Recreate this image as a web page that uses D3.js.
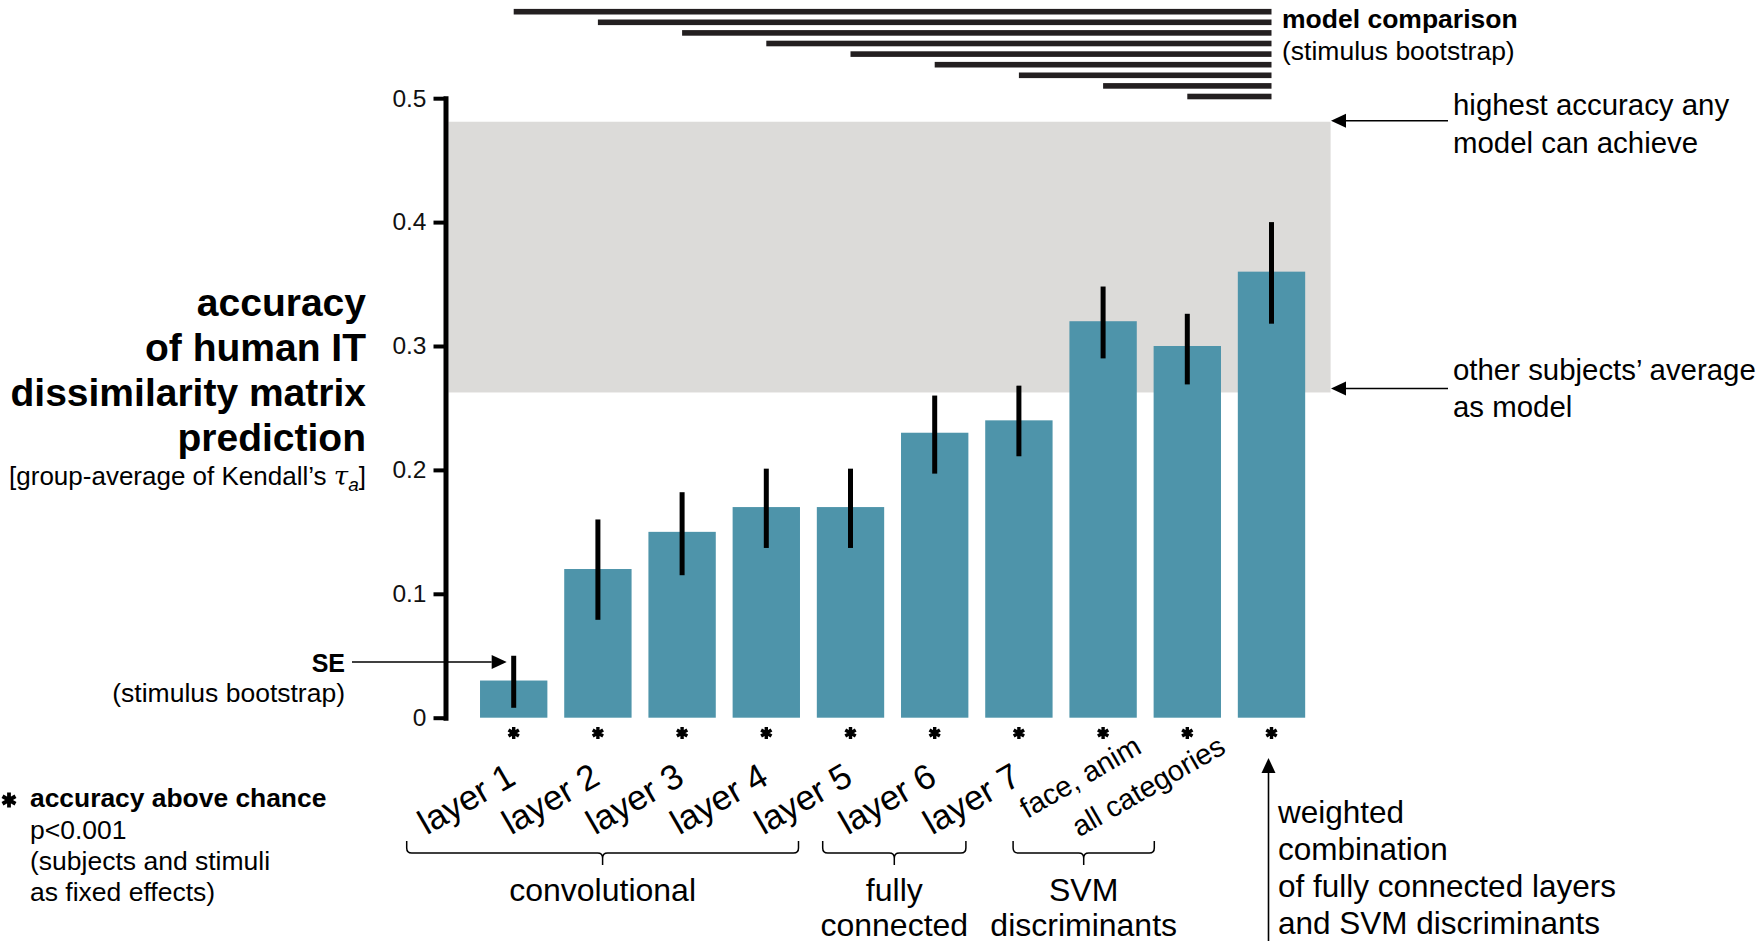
<!DOCTYPE html>
<html>
<head>
<meta charset="utf-8">
<script src="https://cdn.jsdelivr.net/npm/d3@7"></script>
<style>
  html, body { margin: 0; padding: 0; background: #fff; }
  svg { display: block; font-family: "Liberation Sans", Arial, Helvetica, sans-serif; }
</style>
</head>
<body>
<svg id="chart" width="1759" height="941"></svg>
<script>
// ---------------- data ----------------
const categories = ["layer 1", "layer 2", "layer 3", "layer 4", "layer 5", "layer 6", "layer 7",
                    "face, anim", "all categories", "weighted combination"];
const accuracy = [0.03, 0.12, 0.15, 0.17, 0.17, 0.23, 0.24, 0.32, 0.30, 0.36];
const seLow    = [0.008, 0.079, 0.115, 0.137, 0.137, 0.197, 0.211, 0.290, 0.269, 0.318];
const seHigh   = [0.050, 0.160, 0.182, 0.201, 0.201, 0.260, 0.268, 0.348, 0.326, 0.400];
const xTickLabels = ["layer 1", "layer 2", "layer 3", "layer 4", "layer 5", "layer 6", "layer 7",
                     "face, anim", "all categories", ""];
const smallLabels = ["face, anim", "all categories"];
const aboveChance = [true, true, true, true, true, true, true, true, true, true];
const yTicks = [0, 0.1, 0.2, 0.3, 0.4, 0.5];
const ceilingUpper = 0.481;
const ceilingLower = 0.2625;
const seExample = 0.045;
// model comparison bars: each spans from this category to the best model
const comparisonFrom = ["layer 1", "layer 2", "layer 3", "layer 4", "layer 5", "layer 6", "layer 7",
                        "face, anim", "all categories"];
const comparisonTo = "weighted combination";
// category groups (brackets)
const groupNames = [["convolutional"], ["fully", "connected"], ["SVM", "discriminants"]];
const groupFirst = ["layer 1", "layer 6", "face, anim"];
const groupLast  = ["layer 5", "layer 7", "all categories"];

// ---------------- layout ----------------
const svg = d3.select("#chart");
const BAR = "#4e94aa", BAND = "#dcdbd9", INK = "#000";

const x = d3.scaleBand().domain(categories).range([471.6, 1313.6]).paddingInner(0.2).paddingOuter(0.1);
const y = d3.scaleLinear().domain([0, 0.5]).range([717.7, 98.2]);
const cx = c => x(c) + x.bandwidth() / 2;
const axisX = 445.5;

function arrow(x1, y1, x2, y2) {
  const ang = Math.atan2(y2 - y1, x2 - x1);
  const L = 15, H = 7;
  const bx = x2 - L * Math.cos(ang), by = y2 - L * Math.sin(ang);
  svg.append("line").attr("x1", x1).attr("y1", y1).attr("x2", bx).attr("y2", by)
    .attr("stroke", INK).attr("stroke-width", 1.6);
  const px = -Math.sin(ang) * H, py = Math.cos(ang) * H;
  svg.append("path").attr("d", `M${x2},${y2} L${bx + px},${by + py} L${bx - px},${by - py} Z`).attr("fill", INK);
}

// ceiling band
svg.append("rect")
  .attr("x", axisX + 3).attr("y", y(ceilingUpper))
  .attr("width", x.range()[1] + 17 - (axisX + 3))
  .attr("height", y(ceilingLower) - y(ceilingUpper))
  .attr("fill", BAND);

// bars
svg.append("g").selectAll("rect").data(categories).join("rect")
  .attr("x", d => x(d)).attr("width", x.bandwidth())
  .attr("y", (d, i) => y(accuracy[i])).attr("height", (d, i) => y(0) - y(accuracy[i]))
  .attr("fill", BAR);

// error bars
svg.append("g").selectAll("line").data(categories).join("line")
  .attr("x1", d => cx(d)).attr("x2", d => cx(d))
  .attr("y1", (d, i) => y(seLow[i])).attr("y2", (d, i) => y(seHigh[i]))
  .attr("stroke", INK).attr("stroke-width", 5);

// y axis
const yAxis = d3.axisLeft(y).tickValues(yTicks).tickSize(10).tickSizeOuter(0).tickPadding(9)
  .tickFormat(d => d === 0 ? "0" : d3.format(".1f")(d));
const gy = svg.append("g").attr("transform", `translate(${axisX},0)`).call(yAxis);
gy.select(".domain").attr("stroke", INK).attr("stroke-width", 5).attr("stroke-linecap", "square");
gy.selectAll(".tick line").attr("stroke", INK).attr("stroke-width", 4).attr("x2", -12);
gy.selectAll(".tick text").attr("font-size", 24.5).attr("fill", "#111")
  .attr("font-family", "'Liberation Sans', Arial, sans-serif");

// asterisks (accuracy above chance)
function asterisk(g, px, py, r, w) {
  let d = "";
  for (let k = 0; k < 3; k++) {
    const a = Math.PI / 2 + k * Math.PI / 3;
    d += `M${px - r * Math.cos(a)},${py - r * Math.sin(a)}L${px + r * Math.cos(a)},${py + r * Math.sin(a)}`;
  }
  g.append("path").attr("d", d).attr("stroke", INK).attr("stroke-width", w).attr("fill", "none");
}
const gStar = svg.append("g");
categories.forEach((c, i) => { if (aboveChance[i]) asterisk(gStar, cx(c), 733, 6, 3.4); });

// x tick labels (rotated)
svg.append("g").selectAll("text").data(categories).join("text")
  .attr("text-anchor", "end")
  .attr("font-size", (d, i) => smallLabels.includes(xTickLabels[i]) ? 29 : 35)
  .attr("transform", (d, i) => smallLabels.includes(xTickLabels[i])
      ? `translate(${cx(d) + 40},752) rotate(-30)`
      : `translate(${cx(d) + 4},783) rotate(-30)`)
  .attr("fill", INK)
  .text((d, i) => xTickLabels[i]);

// group braces
const braceLeftOff = [-107, -112, -90], braceRightOff = [-52, -53, -33];
groupNames.forEach((names, gi) => {
  const xa = cx(groupFirst[gi]) + braceLeftOff[gi];
  const xb = cx(groupLast[gi]) + braceRightOff[gi];
  const xm = (xa + xb) / 2, yt = 841, yl = 853, yc = 865, r = 5;
  const d = `M${xa},${yt} V${yl - r} Q${xa},${yl} ${xa + r},${yl} H${xm - r} Q${xm},${yl} ${xm},${yl + r} V${yc}` +
            ` M${xm},${yl + r} Q${xm},${yl} ${xm + r},${yl} H${xb - r} Q${xb},${yl} ${xb},${yl - r} V${yt}`;
  svg.append("path").attr("d", d).attr("fill", "none").attr("stroke", INK).attr("stroke-width", 1.5);
  names.forEach((n, li) => {
    svg.append("text").attr("x", xm).attr("y", 901 + li * 35).attr("text-anchor", "middle")
      .attr("font-size", 32).attr("fill", INK).text(n);
  });
});

// model comparison bars
const rowY = d3.scalePoint().domain(comparisonFrom).range([11.7, 96.5]);
svg.append("g").selectAll("rect").data(comparisonFrom).join("rect")
  .attr("x", d => cx(d)).attr("width", d => cx(comparisonTo) - cx(d))
  .attr("y", d => rowY(d) - 2.8).attr("height", 5.6)
  .attr("fill", "#231f20");
svg.append("text").attr("x", 1282).attr("y", 28).attr("font-size", 26.5).attr("font-weight", "bold")
  .attr("fill", INK).text("model comparison");
svg.append("text").attr("x", 1282).attr("y", 60).attr("font-size", 26.5)
  .attr("fill", INK).text("(stimulus bootstrap)");

// y axis title
const yTitle = ["accuracy", "of human IT", "dissimilarity matrix", "prediction"];
yTitle.forEach((t, i) => {
  svg.append("text").attr("x", 366).attr("y", 316 + i * 45).attr("text-anchor", "end")
    .attr("font-size", 39).attr("font-weight", "bold").attr("fill", INK).text(t);
});
const sub = svg.append("text").attr("x", 366).attr("y", 485).attr("text-anchor", "end")
  .attr("font-size", 26).attr("fill", INK);
sub.append("tspan").text("[group-average of Kendall\u2019s ");
sub.append("tspan").attr("font-style", "italic").attr("font-family", "'DejaVu Serif', 'Liberation Serif', serif")
  .attr("font-size", 26).text("\u03C4");
sub.append("tspan").attr("font-style", "italic").attr("font-size", 19).attr("dy", 6).text("a");
sub.append("tspan").attr("dy", -6).text("]");

// SE annotation
svg.append("text").attr("x", 345).attr("y", 672).attr("text-anchor", "end")
  .attr("font-size", 25).attr("font-weight", "bold").attr("fill", INK).text("SE");
svg.append("text").attr("x", 345).attr("y", 702).attr("text-anchor", "end")
  .attr("font-size", 26.5).attr("fill", INK).text("(stimulus bootstrap)");
arrow(352, y(seExample), cx(categories[0]) - 7, y(seExample));

// ceiling annotations
arrow(1448, y(ceilingUpper) - 1, 1331, y(ceilingUpper) - 1);
arrow(1448, y(ceilingLower) - 4, 1331, y(ceilingLower) - 4);
const rightTexts = [["highest accuracy any", 115], ["model can achieve", 153],
                    ["other subjects\u2019 average", 380], ["as model", 417]];
rightTexts.forEach(([t, yy]) => {
  svg.append("text").attr("x", 1453).attr("y", yy).attr("font-size", 29.4).attr("fill", INK).text(t);
});

// weighted combination annotation
arrow(cx(comparisonTo) - 3, 941, cx(comparisonTo) - 3, 758);
["weighted", "combination", "of fully connected layers", "and SVM discriminants"].forEach((t, i) => {
  svg.append("text").attr("x", 1278).attr("y", 823 + i * 37).attr("font-size", 31.5).attr("fill", INK).text(t);
});

// legend for asterisk
asterisk(svg, 9, 800, 7.5, 3.8);
svg.append("text").attr("x", 30).attr("y", 807).attr("font-size", 26.4).attr("font-weight", "bold")
  .attr("fill", INK).text("accuracy above chance");
["p<0.001", "(subjects and stimuli", "as fixed effects)"].forEach((t, i) => {
  svg.append("text").attr("x", 30).attr("y", 839 + i * 31).attr("font-size", 26.5).attr("fill", INK).text(t);
});
</script>
</body>
</html>
